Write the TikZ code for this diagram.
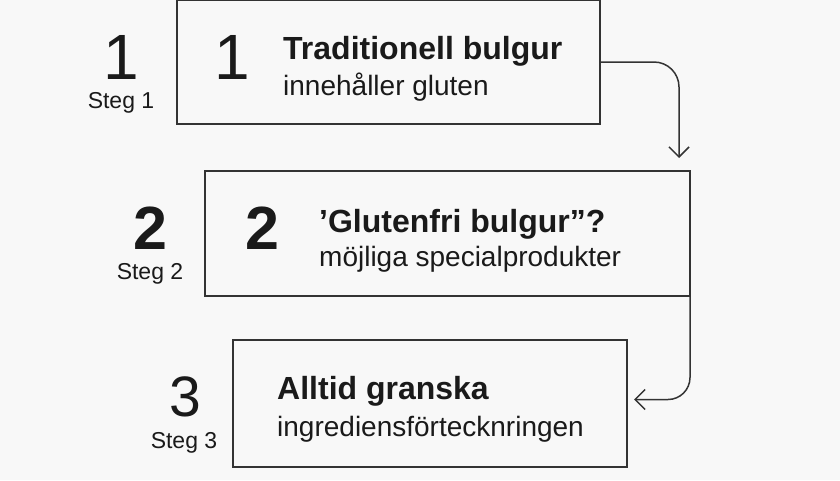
\documentclass[tikz,border=0pt]{standalone}
\usepackage{fontspec}
\setmainfont{Liberation Sans}
\usetikzlibrary{arrows.meta}
\definecolor{bgcol}{HTML}{F8F8F8}
\definecolor{ink}{HTML}{1A1A1A}
\definecolor{edge}{HTML}{333333}
\tikzset{
  box/.style={draw=edge, line width=1.5pt, anchor=north west, outer sep=0pt, inner sep=0pt},
  title/.style={anchor=base west, inner sep=0pt, text=ink, font=\fontsize{32}{32}\selectfont\bfseries},
  sub/.style={anchor=base west, inner sep=0pt, text=ink, font=\fontsize{28}{28}\selectfont},
  steg/.style={anchor=base, inner sep=0pt, text=ink, font=\fontsize{23}{23}\selectfont},
  num/.style={anchor=base, inner sep=0pt, text=ink},
  conn/.style={draw=edge, line width=1.5pt, -{Straight Barb[length=10pt,width=20pt]}}
}
\begin{document}
\begin{tikzpicture}[x=1pt,y=-1pt]
\useasboundingbox (0,0) rectangle (840,480);
\fill[bgcol] (0,0) rectangle (840,480);
% boxes
\node[box, minimum width=423pt, minimum height=124pt] (b1) at (177,0) {};
\node[box, minimum width=485pt, minimum height=125pt] (b2) at (205,171) {};
\node[box, minimum width=394pt, minimum height=127pt] (b3) at (233,340) {};
% step numbers outside
\node[num, font=\fontsize{64}{64}\selectfont] (n1) at (121,79) {1};
\node[num, font=\fontsize{61}{61}\selectfont\bfseries] (n2) at (150,249) {2};
\node[num, font=\fontsize{57}{57}\selectfont] (n3) at (185,416) {3};
\foreach \i/\x/\y in {1/121/108, 2/150/279, 3/184/448} { \node[steg] (s\i) at (\x,\y) {Steg \i}; }
% numbers inside
\node[num, font=\fontsize{64}{64}\selectfont] (m1) at (232,79) {1};
\node[num, font=\fontsize{61}{61}\selectfont\bfseries] (m2) at (262,249) {2};
% texts
\node[title] (t1) at (283,59) {Traditionell bulgur};
\node[sub] (u1) at (283,95) {innehåller gluten};
\node[title] (t2) at (319,232) {’Glutenfri bulgur”?};
\node[sub] (u2) at (319,266) {möjliga specialprodukter};
\node[title] (t3) at (277,399) {Alltid granska};
\node[sub] (u3) at (277,436) {ingrediensförtecknringen};
% arrows
\draw[conn, rounded corners=25pt] (b1.east) -| ([xshift=-11pt,yshift=13pt]b2.north east);
\draw[conn, rounded corners=22pt] (b2.south east) |- ([xshift=7pt,yshift=4pt]b3.east);
\end{tikzpicture}
\end{document}
